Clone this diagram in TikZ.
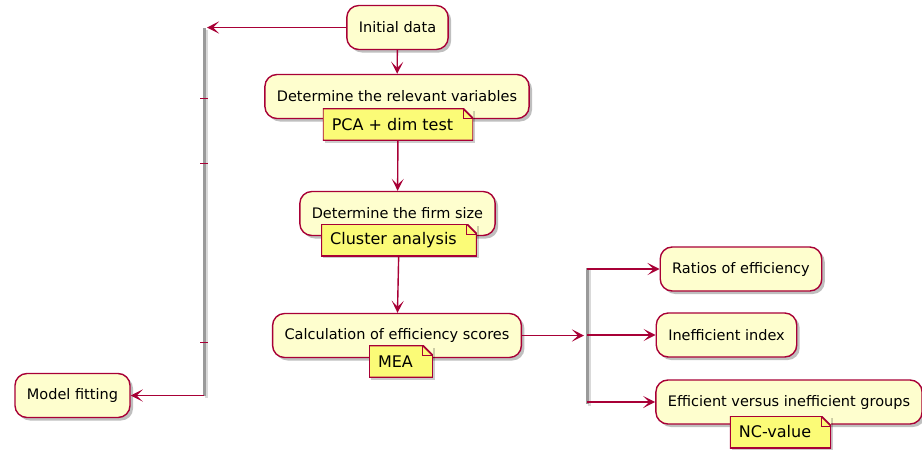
\documentclass[tikz,border=0pt]{standalone}
\usepackage{fontspec}
\setmainfont{DejaVu Sans}
\usetikzlibrary{arrows.meta,shadows}

\definecolor{umlred}{HTML}{A80036}
\definecolor{boxfill}{HTML}{FEFECE}
\definecolor{notefill}{HTML}{FBFB77}
\definecolor{barcol}{HTML}{9A9A9A}

\tikzset{
  activity/.style={draw=umlred, line width=1.4pt, fill=boxfill, rounded corners=12pt,
    minimum height=44pt, inner xsep=12pt, font=\fontsize{14.5}{16}\selectfont,
    drop shadow={shadow xshift=3pt, shadow yshift=-3pt, fill=black, opacity=.25}},
  note/.style={fill=notefill, minimum height=32pt, inner xsep=9pt,
    font=\fontsize{16}{18}\selectfont, execute at end node={\hspace{11pt}},
    drop shadow={shadow xshift=2pt, shadow yshift=-2pt, fill=black, opacity=.2},
    path picture={
      \fill[boxfill] (path picture bounding box.north east) -- ([xshift=-10pt]path picture bounding box.north east)
        -- ([yshift=-10pt]path picture bounding box.north east) -- cycle;
      \draw[umlred, line width=1.8pt] (path picture bounding box.north west)
        -- ([xshift=-10pt]path picture bounding box.north east)
        -- ([yshift=-10pt]path picture bounding box.north east)
        -- (path picture bounding box.south east) -- (path picture bounding box.south west) -- cycle;
      \draw[umlred, line width=.9pt] ([xshift=-10pt]path picture bounding box.north east)
        |- ([yshift=-10pt]path picture bounding box.north east);}},
  flow/.style={draw=umlred, line width=1.4pt, -{Stealth[length=12pt, width=12pt, inset=6pt]}},
  bar/.style={draw=barcol, line width=3pt,
    preaction={draw=black!15, line width=3pt, transform canvas={xshift=2pt, yshift=-2pt}}},
  tick/.style={draw=umlred, line width=.8pt}
}

\begin{document}
\begin{tikzpicture}[x=1pt, y=-1pt]
  \useasboundingbox (0,0) rectangle (922,451);

  % main column
  \node[activity] (init) at (397.5,27.5) {Initial data};
  \node[activity] (vars) at (397,96.5) {Determine the relevant variables};
  \node[note] (pca) at (398,124.5) {PCA + dim test};
  \node[activity] (size) at (397.5,213.5) {Determine the firm size};
  \node[note] (clust) at (399,240) {Cluster analysis};
  \node[activity] (calc) at (397,335.5) {Calculation of efficiency scores};
  \node[note] (mea) at (401,361.5) {MEA};

  % outcomes
  \node[activity] (ratio) at (741,269) {Ratios of efficiency};
  \node[activity] (ineff) at (726.5,335) {Inefficient index};
  \node[activity] (groups) at (789,402) {Efficient versus inefficient groups};
  \node[note] (nc) at (780.5,432) {NC-value};
  \node[activity] (model) at (72.5,395.5) {Model fitting};

  % bars
  \coordinate (lbarTop) at (204,28);
  \coordinate (lbarBot) at (204,396);
  \coordinate (rbarTop) at (587,268);
  \coordinate (rbarBot) at (587,404);
  \draw[bar] (lbarTop) -- (lbarBot);
  \draw[bar] (rbarTop) -- (rbarBot);
  \foreach \y in {98,163,342}
    \draw[tick] (200,\y) -- (208,\y);

  % connectors
  \draw[flow] (init) -- (vars);
  \draw[flow] (pca) -- (size);
  \draw[flow] (clust) -- (calc);
  \draw[flow] (init.west) -- ([xshift=3pt]init.west -| lbarTop);
  \draw[flow] (model.east -| lbarBot) -- (model.east);
  \draw[flow] (calc.east) -- ([xshift=-3pt]calc.east -| rbarTop);
  \draw[flow] (ratio.west -| rbarTop) -- (ratio.west);
  \draw[flow] (ineff.west -| rbarTop) -- (ineff.west);
  \draw[flow] (groups.west -| rbarBot) -- (groups.west);
\end{tikzpicture}
\end{document}
